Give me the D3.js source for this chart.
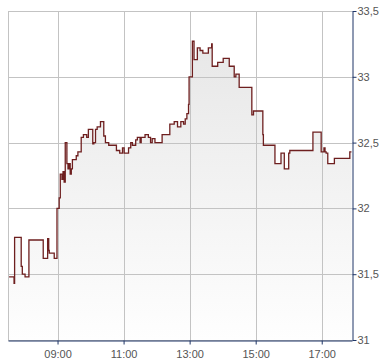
<!DOCTYPE html>
<html>
<head>
<meta charset="utf-8">
<script src="https://cdn.jsdelivr.net/npm/d3@7"></script>
<style>
  html, body { margin: 0; padding: 0; background: #ffffff; }
  svg { display: block; }
  text { font-family: "Liberation Sans", Arial, sans-serif; font-size: 11px; fill: #555555; }
</style>
</head>
<body>
<svg id="chart" width="390" height="364"></svg>
<script>
// ---- data ----
const times = ["07:32","07:41","07:42","07:54","07:56","08:01","08:08","08:34","08:42","08:44","08:45","08:54",
  "08:59","09:03","09:05","09:08","09:10","09:12","09:14","09:17","09:19","09:21","09:23","09:25","09:27","09:34","09:37",
  "09:43","09:47","09:53","09:56","10:04","10:06","10:09","10:12","10:18","10:24","10:27","10:33","10:47","10:53","10:58",
  "10:59","11:01","11:09","11:13","11:16","11:22","11:25","11:30","11:32","11:39","11:45","11:49","11:52","11:57","12:10",
  "12:24","12:32","12:38","12:44","12:49","12:52","12:55","12:58","12:59","13:05","13:08","13:14","13:19","13:24","13:34",
  "13:40","13:41","13:51","14:01","14:12","14:21","14:24","14:30","14:53","14:56","15:13","15:14","15:35","15:46","15:52",
  "16:00","16:02","16:44","16:59","17:04","17:06","17:08","17:11","17:23","17:51","17:54"];
const values = [31.48,31.43,31.78,31.56,31.50,31.48,31.76,31.62,31.77,31.68,31.66,31.62,
  32.00,32.08,32.26,32.22,32.28,32.20,32.50,32.34,32.30,32.34,32.26,32.30,32.37,32.40,32.43,
  32.54,32.56,32.54,32.60,32.49,32.50,32.60,32.62,32.66,32.55,32.50,32.48,32.44,32.42,32.46,
  32.46,32.42,32.46,32.50,32.48,32.52,32.54,32.50,32.54,32.56,32.54,32.50,32.53,32.50,32.56,
  32.64,32.66,32.62,32.66,32.64,32.68,32.72,32.79,33.00,33.27,33.13,33.22,33.20,33.18,33.22,
  33.25,33.08,33.11,33.14,33.08,33.00,33.02,32.92,32.71,32.74,32.56,32.48,32.34,32.42,32.30,
  32.42,32.44,32.58,32.43,32.46,32.43,32.42,32.34,32.38,32.43,32.43];
const xTickLabels = ["09:00","11:00","13:00","15:00","17:00"];
const yTickValues = [31, 31.5, 32, 32.5, 33, 33.5];
const yTickLabels = ["31","31,5","32","32,5","33","33,5"];
const xDomain = ["07:30","17:55"];

// ---- layout ----
const parse = d3.timeParse("%H:%M");
const L = 8, R = 352, T = 11, B = 340;
const x = d3.scaleTime().domain(xDomain.map(parse)).range([L, R]);
const y = d3.scaleLinear().domain([31, 33.5]).range([B, T]);
const data = times.map((t, i) => ({ t: parse(t), v: values[i] }));

const svg = d3.select("#chart");
const defs = svg.append("defs");
const grad = defs.append("linearGradient").attr("id", "fillGrad")
  .attr("gradientUnits", "userSpaceOnUse").attr("x1", 0).attr("x2", 0).attr("y1", T).attr("y2", B);
grad.append("stop").attr("offset", "0%").attr("stop-color", "#e5e5e5");
grad.append("stop").attr("offset", "100%").attr("stop-color", "#fefefe");

// area
const area = d3.area().curve(d3.curveStepAfter).x(d => x(d.t)).y0(B).y1(d => y(d.v));
svg.append("path").datum(data).attr("d", area).attr("fill", "url(#fillGrad)");

// grid
const px = v => Math.round(v) + 0.5;
const xTicks = xTickLabels.map(parse);
svg.append("g").selectAll("line").data(xTicks).join("line")
  .attr("x1", d => px(x(d))).attr("x2", d => px(x(d))).attr("y1", T).attr("y2", B)
  .attr("stroke", "#c3c3c3").attr("stroke-width", 1);
svg.append("g").selectAll("line").data(yTickValues).join("line")
  .attr("x1", L).attr("x2", R).attr("y1", d => px(y(d))).attr("y2", d => px(y(d)))
  .attr("stroke", "#c3c3c3").attr("stroke-width", 1);
// left border
svg.append("line").attr("x1", px(L)).attr("x2", px(L)).attr("y1", T).attr("y2", B)
  .attr("stroke", "#c3c3c3");

// line
const line = d3.line().curve(d3.curveStepAfter).x(d => x(d.t)).y(d => y(d.v));
svg.append("path").datum(data).attr("d", line).attr("fill", "none")
  .attr("stroke", "#6e1f1f").attr("stroke-width", 1.3);

// axes
const axisColor = "#1f3566";
const xAxis = d3.axisBottom(x).tickValues(xTicks).tickFormat(d3.timeFormat("%H:%M")).tickSize(4).tickSizeOuter(0);
const gx = svg.append("g").attr("transform", `translate(0,${px(B)})`).call(xAxis);
gx.select(".domain").attr("stroke", axisColor);
gx.selectAll(".tick line").attr("stroke", axisColor);
gx.selectAll(".tick text").attr("font-family", "Liberation Sans, Arial, sans-serif").attr("font-size", 11)
  .attr("fill", "#555").attr("dy", "0.95em");

const yAxis = d3.axisRight(y).tickValues(yTickValues).tickFormat((d, i) => yTickLabels[i]).tickSize(4).tickSizeOuter(0);
const gy = svg.append("g").attr("transform", `translate(${px(R)},0)`).call(yAxis);
gy.select(".domain").attr("stroke", axisColor);
gy.selectAll(".tick line").attr("stroke", axisColor);
gy.selectAll(".tick text").attr("font-family", "Liberation Sans, Arial, sans-serif").attr("font-size", 11)
  .attr("fill", "#555").attr("x", 5);
</script>
</body>
</html>
